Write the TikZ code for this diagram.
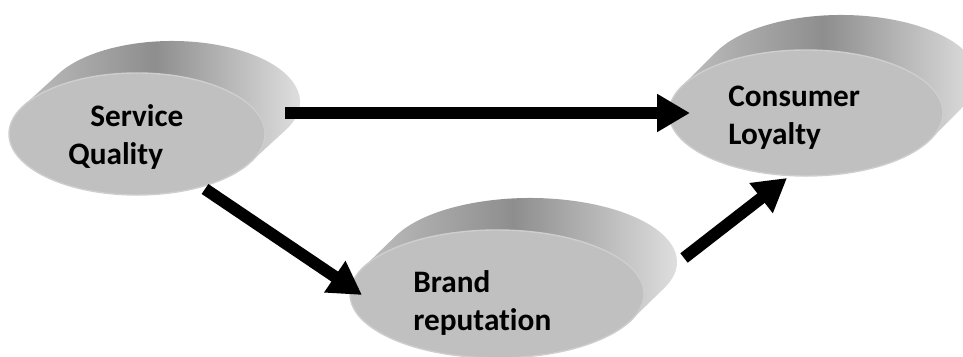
\documentclass[tikz,border=0pt]{standalone}
\usepackage{fontspec}
\setmainfont{Carlito}[Ligatures={NoCommon,NoContextual}]
\usepackage{xcolor}
\definecolor{discface}{RGB}{192, 192, 192}
\definecolor{discrim}{RGB}{206, 206, 206}
\definecolor{discleft}{RGB}{200, 200, 200}
\definecolor{discmid}{RGB}{142, 142, 142}
\definecolor{discright}{RGB}{232, 232, 232}
\usepackage{tikz}
\usetikzlibrary{arrows.meta}

\tikzset{
  flow/.style={line width=6.8pt, -{Triangle[length=18.7pt, width=20.4pt]}},
  lbl/.style={font=\fontsize{17.8}{22}\selectfont\bfseries, align=left, inner sep=0pt, anchor=base west}
}

\begin{document}
\begin{tikzpicture}[x=0.02cm, y=-0.02cm]
      \useasboundingbox (0, 0) rectangle (963, 357);
      \clip (0, 0) rectangle (963, 357);

      \foreach \cx/\cy/\rx/\ry/\dx/\dy in {137/134/128/61/35/-32, 497/294/147/64/33/-32, 806/113/137/63/35/-35} {
        \pgfmathsetmacro\ang{atan((\dx*\ry)/(-\dy*\rx))}
        \shade[left color=discleft, right color=discright, middle color=discmid]
          (\cx+\dx, \cy+\dy) ++({-\rx*cos(\ang)}, {-\ry*sin(\ang)})
          arc[start angle=\ang+180, end angle=\ang+360, x radius=\rx, y radius=\ry]
          -- ++(-\dx, -\dy)
          arc[start angle=\ang, end angle=\ang+180, x radius=\rx, y radius=\ry] -- cycle;
        \filldraw[fill=discface, draw=discrim, line width=0.8pt] (\cx, \cy) ellipse [x radius=\rx, y radius=\ry];
      }

      \coordinate (sq-r) at (285, 113);
      \coordinate (sq-b) at (205, 189);
      \coordinate (br-l) at (362, 295);
      \coordinate (br-r) at (684, 258);
      \coordinate (cl-l) at (690, 113);
      \coordinate (cl-b) at (787, 178);

      \node[lbl] (sq) at (68, 165) {\hspace*{12.5pt}Service\\Quality};
      \node[lbl] (br) at (413, 331) {Brand\\reputation};
      \node[lbl] (cl) at (728, 145) {Consumer\\Loyalty};

      \draw[flow] (sq-r) -- (cl-l);
      \draw[flow] (sq-b) -- (br-l);
      \draw[flow] (br-r) -- (cl-b);
    \end{tikzpicture}
\end{document}
